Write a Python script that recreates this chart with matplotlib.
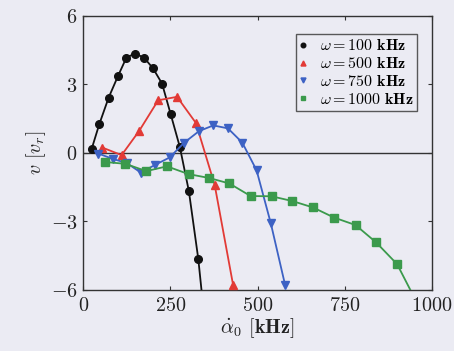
import matplotlib
matplotlib.use("Agg")
import matplotlib.pyplot as plt

plt.rcParams['mathtext.fontset'] = 'cm'
plt.rcParams['font.family'] = ['DejaVu Serif']

# data
x100 = [24, 46, 73, 100, 124, 148, 174, 200, 226, 251, 277, 303, 330, 356]
y100 = [0.16, 1.25, 2.42, 3.37, 4.17, 4.34, 4.17, 3.70, 3.03, 1.68, 0.26, -1.68, -4.65, -8.5]
x500 = [55, 110, 160, 215, 269, 323, 377, 430]
y500 = [0.23, -0.10, 0.95, 2.30, 2.45, 1.31, -1.41, -5.80]
x750 = [43, 84, 125, 165, 207, 248, 290, 332, 373, 415, 456, 497, 538, 579]
y750 = [-0.03, -0.26, -0.45, -0.86, -0.52, -0.20, 0.45, 0.95, 1.20, 1.07, 0.45, -0.76, -3.09, -5.79]
x1000 = [62, 121, 181, 240, 302, 361, 419, 480, 540, 600, 659, 719, 781, 840, 900, 960]
y1000 = [-0.40, -0.48, -0.80, -0.59, -0.93, -1.10, -1.34, -1.89, -1.90, -2.11, -2.39, -2.83, -3.16, -3.92, -4.87, -6.65]
labels = [r'$\omega = \mathbf{100\ kHz}$', r'$\omega = \mathbf{500\ kHz}$',
          r'$\omega = \mathbf{750\ kHz}$', r'$\omega = \mathbf{1000\ kHz}$']
xticks = [0, 250, 500, 750, 1000]
yticks = [-6, -3, 0, 3, 6]

bg = '#ebebf3'
fig = plt.figure(figsize=(4.54, 3.51), dpi=100, facecolor=bg)
ax = fig.add_axes([0.1833, 0.1738, 0.7682, 0.7815], facecolor=bg)

ax.axhline(0, color='#333333', lw=1.0, zorder=1)
series = [
    (x100, y100, 'o', '#111111', 5.5),
    (x500, y500, '^', '#e23a36', 6),
    (x750, y750, 'v', '#3d62c4', 6),
    (x1000, y1000, 's', '#3b9a4c', 5.5),
]
for (xs, ys, m, c, ms), lab in zip(series, labels):
    ax.plot(xs, ys, marker=m, color=c, ms=ms, lw=1.3, label=lab, zorder=3)

ax.set_xlim(0, 1000)
ax.set_ylim(-6, 6)
ax.set_xticks(xticks)
ax.set_yticks(yticks)
ax.set_xticklabels([r'$\mathbf{%d}$' % v for v in xticks])
ax.set_yticklabels([r'$\mathbf{%d}$' % v if v >= 0 else r'$\mathbf{-%d}$' % (-v) for v in yticks])
ax.tick_params(direction='in', top=True, right=True, labelsize=14.5, length=3, width=0.8, colors='#333333', pad=4)
for lbl in ax.get_xticklabels() + ax.get_yticklabels():
    lbl.set_color('#222222')
for s in ax.spines.values():
    s.set_color('#333333')
    s.set_linewidth(1.0)

ax.set_xlabel(r'$\dot{\alpha}_0$ $\mathbf{[kHz]}$', fontsize=14.5, color='#222222', labelpad=1)
ax.set_ylabel(r'$v$ $[v_r]$', fontsize=14.5, color='#222222', labelpad=2)

leg = ax.legend(loc='upper right', bbox_to_anchor=(0.98, 0.962), fontsize=11.5,
                handlelength=0.5, handletextpad=0.8, borderpad=0.2, labelspacing=0.05,
                markerscale=0.6, frameon=True, fancybox=False, facecolor=bg, edgecolor='#333333')
leg.get_frame().set_linewidth(1.0)
for h in leg.get_lines():
    h.set_linestyle('none')

fig.savefig('out.png', dpi=100, facecolor=bg)
